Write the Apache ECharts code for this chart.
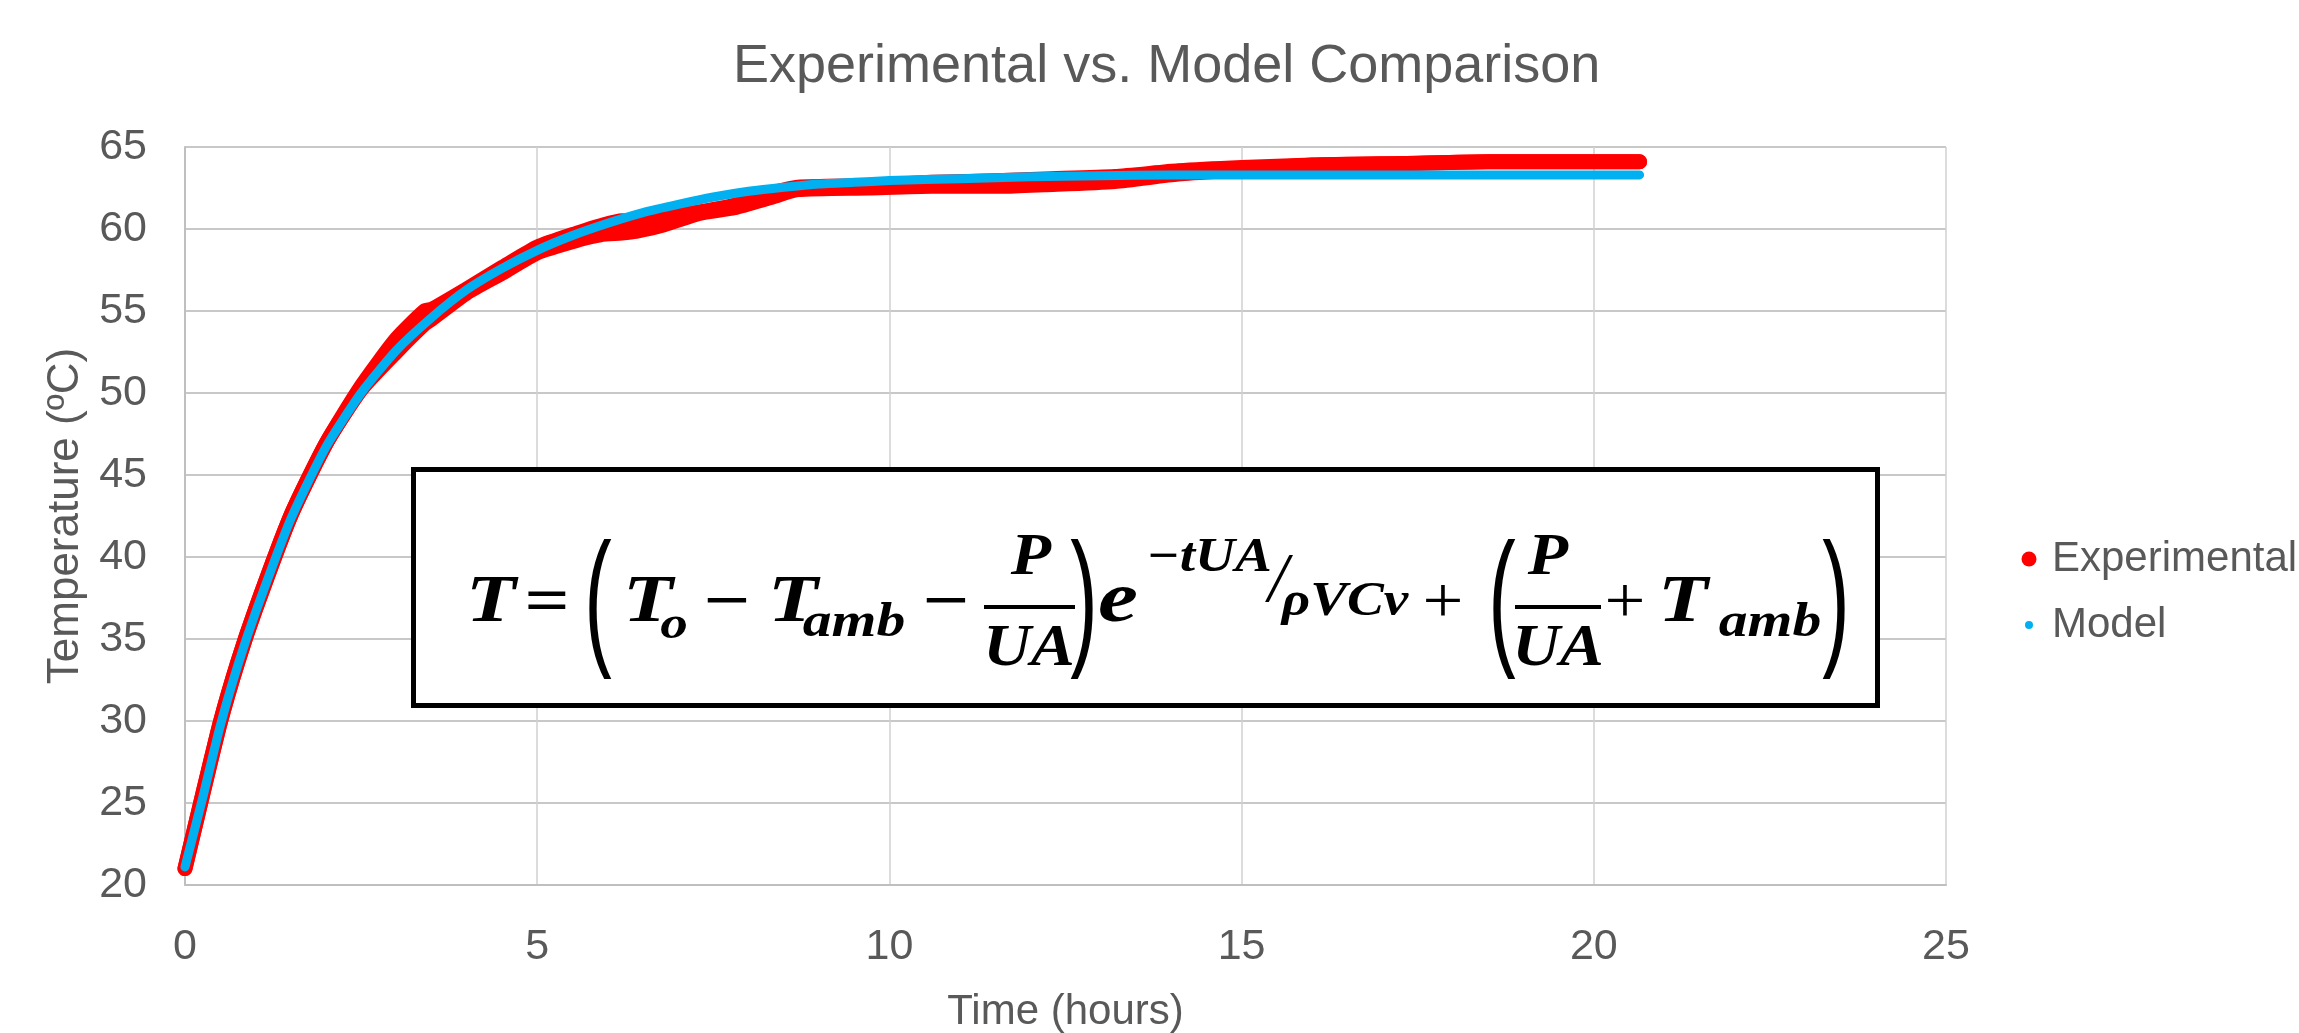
<!DOCTYPE html>
<html>
<head>
<meta charset="utf-8">
<title>Experimental vs. Model Comparison</title>
<script src="https://cdn.jsdelivr.net/npm/echarts@6/dist/echarts.min.js"></script>
<style>
html, body { margin: 0; padding: 0; background: #fff; }
#main { width: 2299px; height: 1033px; }
</style>
</head>
<body>
<div id="main"></div>
<script>
// ticks
var xTickLabels = [0, 5, 10, 15, 20, 25];
var yTickLabels = [20, 25, 30, 35, 40, 45, 50, 55, 60, 65];

// measured run: upper / lower edge of the red band (noisy data)
var expTime = [0, 0.25, 0.5, 0.75, 1, 1.5, 2, 2.5, 3, 3.4, 3.5, 4, 4.5, 5, 5.6, 5.9, 6.2, 6.4, 6.8, 7.3, 7.8, 8.3, 8.7, 9.7, 10.6, 11.6, 12.2, 13.2, 14.1, 15, 16, 17.3, 18.5, 19.5, 20.65];
var expHigh = [21.0, 25.5, 29.9, 33.6, 36.8, 42.5, 46.9, 50.4, 53.3, 55.0, 55.1, 56.35, 57.65, 58.9, 59.8, 60.2, 60.5, 60.45, 60.75, 61.05, 61.45, 62.15, 62.55, 62.65, 62.85, 62.95, 63.05, 63.2, 63.55, 63.75, 63.9, 64.0, 64.1, 64.1, 64.1];
var expLow  = [21.0, 25.5, 29.9, 33.6, 36.8, 42.5, 46.9, 50.2, 52.5, 54.2, 54.5, 56.1, 57.3, 58.55, 59.35, 59.65, 59.75, 59.85, 60.25, 60.95, 61.3, 61.9, 62.4, 62.5, 62.6, 62.6, 62.7, 62.9, 63.35, 63.6, 63.9, 64.0, 64.1, 64.1, 64.1];

// model curve
var modelTime = [0, 0.25, 0.5, 0.75, 1, 1.5, 2, 2.5, 3, 3.5, 4, 4.5, 5, 5.5, 6, 6.5, 7, 7.5, 8, 8.5, 9, 9.5, 10, 11, 12, 13, 14, 15, 16, 17, 18, 19, 20, 20.65];
var modelTemp = [21.1, 25.3, 29.7, 33.4, 36.6, 42.3, 46.7, 50.0, 52.6, 54.6, 56.3, 57.6, 58.7, 59.6, 60.35, 61.0, 61.5, 61.95, 62.3, 62.55, 62.75, 62.85, 62.95, 63.07, 63.18, 63.25, 63.3, 63.3, 63.3, 63.3, 63.3, 63.3, 63.3, 63.3];

var RED = '#ff0000', BLUE = '#00b0f0', GREY = '#595959';
var sansFont = '"Liberation Sans", Arial, sans-serif';
var mathFont = '"Liberation Serif", "DejaVu Serif", serif';

function pairs(xs, ys) {
    var out = [];
    for (var i = 0; i < xs.length; i++) out.push([xs[i], ys[i]]);
    return out;
}

// legend dot drawn in a wider box so the text sits further right
function dotIcon(color, r) {
    var svg = '<svg xmlns="http://www.w3.org/2000/svg" width="26" height="16" viewBox="0 0 26 16">' +
        '<circle cx="8" cy="8" r="' + r + '" fill="' + color + '"/></svg>';
    return 'image://data:image/svg+xml;charset=utf-8,' + encodeURIComponent(svg);
}

// one piece of the formula, placed by its baseline; sx widens the glyphs a bit (Cambria Math is wide)
function eq(txt, x, base, size, sx, weight, italic, family) {
    return {
        type: 'text', x: x, y: base - 0.31 * size, z: 102, scaleX: sx || 1,
        style: {
            text: txt, fill: '#000',
            font: (italic === false ? 'normal' : 'italic') + ' ' + (weight || 'bold') + ' ' + size + 'px ' + (family || mathFont),
            align: 'center', verticalAlign: 'middle'
        }
    };
}
// tall thin bracket
function paren(txt, x) {
    return {
        type: 'text', x: x, y: 607, z: 102, scaleX: 0.55,
        style: { text: txt, fill: '#000', font: 'normal 300 150px ' + sansFont, align: 'center', verticalAlign: 'middle' }
    };
}
function bar(x1, x2, y) {
    return { type: 'line', z: 102, shape: { x1: x1, y1: y, x2: x2, y2: y }, style: { stroke: '#000', lineWidth: 4 } };
}

var formula = [
    { type: 'rect', z: 101, shape: { x: 413.5, y: 469.5, width: 1464, height: 236 }, style: { fill: '#fff', stroke: '#000', lineWidth: 5 } },
    eq('T', 491, 625, 68, 1.2),
    eq('=', 547, 625, 66, 1.2, 'bold', false),
    paren('(', 598),
    eq('T', 648, 625, 68, 1.2),
    eq('o', 674, 640, 46, 1.2),
    eq('\u2212', 727, 625, 66, 1.25, 'bold', false),
    eq('T', 793, 625, 68, 1.2),
    eq('amb', 854, 638, 48, 1.2),
    eq('\u2212', 946, 625, 66, 1.25, 'bold', false),
    eq('P', 1031, 577, 60, 1.1),
    bar(984, 1075, 607),
    eq('UA', 1029, 668, 60, 1.1),
    paren(')', 1084),
    eq('e', 1118, 625, 72, 1.25),
    eq('\u2212tUA', 1209, 573, 48, 1.15),
    eq('/', 1278, 604, 70, 1, 'normal'),
    eq('\u03c1VCv', 1345, 617, 48, 1.15),
    eq('+', 1443, 625, 66, 1.1, 'normal', false),
    paren('(', 1502),
    eq('P', 1548, 577, 60, 1.1),
    bar(1515, 1601, 607),
    eq('UA', 1558, 668, 60, 1.1),
    eq('+', 1625, 625, 66, 1.1, 'normal', false),
    eq('T', 1683, 625, 68, 1.2),
    eq('amb', 1770, 638, 48, 1.2),
    paren(')', 1836)
];

var myChart = echarts.init(document.getElementById('main'));

var lineBase = { type: 'line', showSymbol: false, smooth: 0.2, animation: false };

myChart.setOption({
    animation: false,
    textStyle: { fontFamily: sansFont },
    title: {
        text: 'Experimental vs. Model Comparison',
        left: 733, top: 40, padding: 0,
        textStyle: { color: GREY, fontSize: 54, fontWeight: 'normal', fontFamily: sansFont }
    },
    legend: {
        orient: 'vertical', left: 2016, top: 533, itemGap: 24,
        itemWidth: 26, itemHeight: 16,
        textStyle: { color: GREY, fontSize: 42, fontFamily: sansFont },
        data: [
            { name: 'Experimental', icon: dotIcon(RED, 7.5) },
            { name: 'Model', icon: dotIcon(BLUE, 4) }
        ]
    },
    grid: { left: 185, top: 147, right: 353, bottom: 148, containLabel: false, outerBoundsMode: 'none' },
    xAxis: {
        type: 'value',
        min: xTickLabels[0], max: xTickLabels[xTickLabels.length - 1],
        interval: xTickLabels[1] - xTickLabels[0],
        name: 'Time (hours)', nameLocation: 'middle', nameGap: 106,
        nameTextStyle: { color: GREY, fontSize: 42, fontFamily: sansFont },
        axisLine: { show: true, lineStyle: { color: '#bfbfbf', width: 2 } },
        axisTick: { show: false },
        axisLabel: { color: GREY, fontSize: 43, margin: 41, fontFamily: sansFont },
        splitLine: { show: true, lineStyle: { color: '#d0d0d0', width: 1.5 } }
    },
    yAxis: {
        type: 'value',
        min: yTickLabels[0], max: yTickLabels[yTickLabels.length - 1],
        interval: yTickLabels[1] - yTickLabels[0],
        name: 'Temperature (\u00baC)', nameLocation: 'middle', nameGap: 95, nameRotate: 90,
        nameTextStyle: { color: GREY, fontSize: 44, fontFamily: sansFont },
        axisLine: { show: true, lineStyle: { color: '#bfbfbf', width: 2 } },
        axisTick: { show: false },
        axisLabel: { color: GREY, fontSize: 43, margin: 38, fontFamily: sansFont },
        splitLine: { show: true, lineStyle: { color: '#c8c8c8', width: 2 } }
    },
    series: [
        echarts.util.extend({
            name: 'Experimental', data: pairs(expTime, expHigh), itemStyle: { color: RED },
            lineStyle: { color: RED, width: 15, cap: 'round', join: 'round' }
        }, lineBase),
        echarts.util.extend({
            name: 'Experimental', data: pairs(expTime, expLow), itemStyle: { color: RED },
            lineStyle: { color: RED, width: 15, cap: 'round', join: 'round' }
        }, lineBase),
        echarts.util.extend({
            name: 'Model', data: pairs(modelTime, modelTemp), itemStyle: { color: BLUE },
            lineStyle: { color: BLUE, width: 9, cap: 'round', join: 'round' }
        }, lineBase)
    ],
    graphic: formula
});
</script>
</body>
</html>
